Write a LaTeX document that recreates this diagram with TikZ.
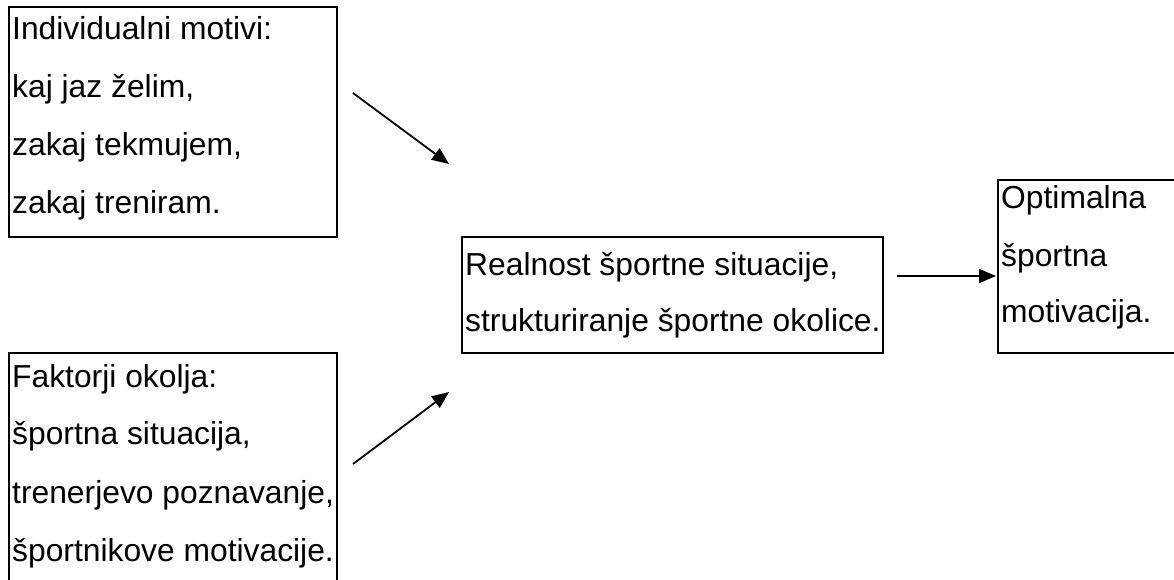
\documentclass[tikz,border=0pt]{standalone}
\usepackage{fontspec}
\setmainfont{Liberation Sans}
\usetikzlibrary{arrows.meta}
\begin{document}
\begin{tikzpicture}[x=1pt,y=-1pt,
  boxline/.style={draw=black,line width=2pt},
  txt/.style={anchor=base west,inner sep=0pt,font=\fontsize{31.8}{58}\selectfont},
  conn/.style={line width=1.8pt,-{Triangle[length=17pt,width=14pt]}}]
\useasboundingbox (0,0) rectangle (1174,579);
\clip (0,0) rectangle (1174,579);
% boxes
\draw[boxline] (9,7) rectangle (337,237);
\draw[boxline] (9,353) rectangle (337,620);
\draw[boxline] (462,237) rectangle (883,353);
\draw[boxline] (998,180) rectangle (1200,353);
% box 1 text
\node[txt] (a1) at (12,39) {Individualni motivi:};
\node[txt] (a2) at (12,97) {kaj jaz želim,};
\node[txt] (a3) at (12,155) {zakaj tekmujem,};
\node[txt] (a4) at (12,213) {zakaj treniram.};
% box 2 text
\node[txt] (b1) at (12,387) {Faktorji okolja:};
\node[txt] (b2) at (12,444) {športna situacija,};
\node[txt] (b3) at (12,503) {trenerjevo poznavanje,};
\node[txt] (b4) at (12,561) {športnikove motivacije.};
% box 3 text
\node[txt] (c1) at (465,275) {Realnost športne situacije,};
\node[txt] (c2) at (465,331) {strukturiranje športne okolice.};
% box 4 text
\node[txt] (d1) at (1001,208) {Optimalna};
\node[txt] (d2) at (1001,266) {športna};
\node[txt] (d3) at (1001,322) {motivacija.};
% arrows
\coordinate (p1) at (353,93);
\coordinate (q1) at (449,164);
\coordinate (p2) at (353,464);
\coordinate (q2) at (449,392);
\coordinate (p3) at (897,276);
\coordinate (q3) at (996,276);
\draw[conn] (p1) -- (q1);
\draw[conn] (p2) -- (q2);
\draw[conn] (p3) -- (q3);
\end{tikzpicture}
\end{document}
